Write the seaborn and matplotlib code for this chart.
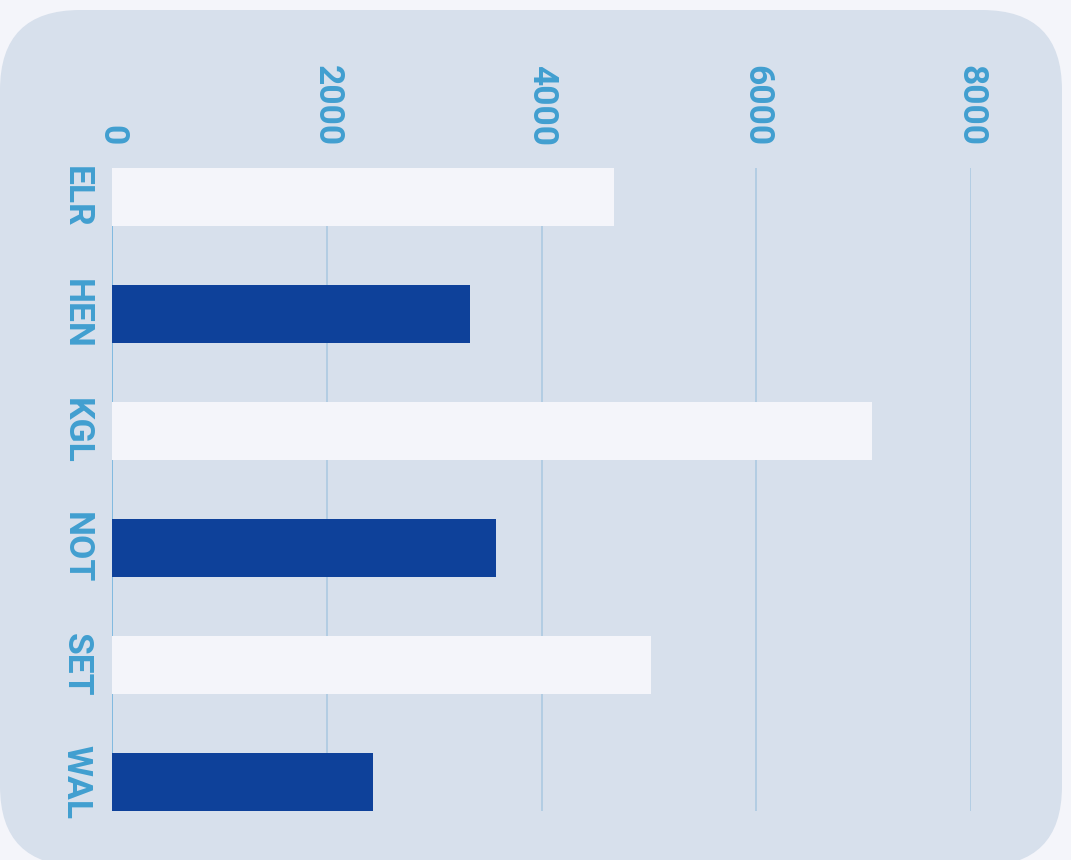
import matplotlib
matplotlib.use("Agg")
import matplotlib.pyplot as plt
import seaborn as sns
from matplotlib.patches import FancyBboxPatch

# -- Data ----------------------------------------------------------------------
stations = ["ELR", "HEN", "KGL", "NOT", "SET", "WAL"]
values = [4675, 3334, 7078, 3576, 5020, 2431]
x_ticks = [0, 2000, 4000, 6000, 8000]

# -- Style ---------------------------------------------------------------------
BG = "#f4f5fa"
PANEL = "#d7e0ec"
LIGHT_BAR = "#f4f5fa"
DARK_BAR = "#0e419a"
TEXT = "#419fd0"
GRID = "#b0cce3"

sns.set_theme(style="white")
plt.rcParams["font.family"] = ["Roboto", "DejaVu Sans"]

fig = plt.figure(figsize=(10.71, 8.6), dpi=100, facecolor=BG)

# rounded background panel (inches, so corners stay round)
panel = FancyBboxPatch((0.0, -0.06), 10.62, 8.56,
                       boxstyle="round,pad=0,rounding_size=0.8",
                       transform=fig.dpi_scale_trans,
                       facecolor=PANEL, edgecolor="none", zorder=-10)
fig.patches.append(panel)

ax = fig.add_axes([0.1046, 0.0570, 0.8021, 0.7477])
ax.set_facecolor("none")
ax.set_zorder(1)

palette = [LIGHT_BAR if i % 2 == 0 else DARK_BAR for i in range(len(stations))]
sns.barplot(x=values, y=stations, hue=stations, palette=palette, saturation=1,
            legend=False, width=0.5, orient="h", linewidth=0, ax=ax, zorder=2)

ax.set_xlim(0, 8000)
ax.set_ylim(len(stations) - 0.75, -0.25)
ax.set_xticks(x_ticks)
ax.xaxis.tick_top()
ax.grid(axis="x", color=GRID, linewidth=1.3, zorder=0)
ax.grid(axis="y", visible=False)
ax.set_axisbelow(True)
ax.axvline(0, color="#7db8e0", linewidth=1.3, zorder=1)

for s in ax.spines.values():
    s.set_visible(False)

ax.tick_params(axis="x", length=0, pad=16, labelsize=25.5, labelcolor=TEXT)
ax.tick_params(axis="y", length=0, pad=14, labelsize=25.5, labelcolor=TEXT)
for lbl in ax.get_xticklabels():
    lbl.set_rotation(-90)
    lbl.set_fontweight("bold")
    lbl.set_ha("center")
    lbl.set_va("bottom")
for lbl in ax.get_yticklabels():
    lbl.set_rotation(-90)
    lbl.set_fontweight("bold")
    lbl.set_va("center")
    lbl.set_ha("right")

ax.set_xlabel("")
ax.set_ylabel("")

fig.savefig("out.png", dpi=100, facecolor=BG)
